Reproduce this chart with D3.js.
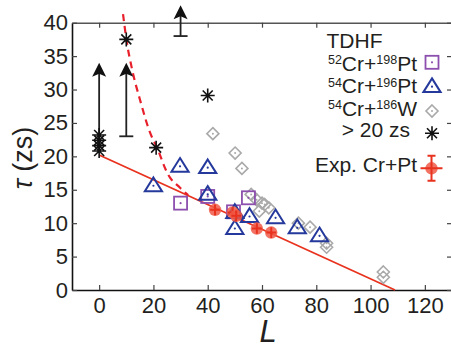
<!DOCTYPE html>
<html>
<head>
<meta charset="utf-8">
<script src="https://cdn.jsdelivr.net/npm/d3@7"></script>
<style>
  html, body { margin: 0; padding: 0; background: #fff; }
  svg { display: block; font-family: "Liberation Sans", Arial, Helvetica, sans-serif; }
</style>
</head>
<body>
<svg id="chart" width="451" height="349"></svg>
<script>
// Sticking time tau (zs) versus angular momentum L

// TDHF 52Cr+198Pt
const pt198L   = [30, 40, 49.5, 55];
const pt198Tau = [13.0, 14.0, 11.7, 13.8];

// TDHF 54Cr+196Pt
const pt196L   = [20, 29.8, 40, 40, 50, 50, 55.4, 65, 73, 81.2];
const pt196Tau = [15.6, 18.5, 18.3, 14.3, 11.6, 9.2, 11.0, 10.8, 9.3, 8.1];

// TDHF 54Cr+186W
const w186L   = [41.9, 50.1, 52.6, 56, 58, 60, 59, 62.5, 61, 73.4, 77.7, 83.8, 83.8, 104.7, 104.7];
const w186Tau = [23.4, 20.5, 18.2, 14.3, 13.5, 13.0, 11.8, 12.3, 12.8, 10.0, 9.4, 7.0, 6.4, 2.7, 1.9];

// TDHF runs still in contact after 20 zs
const longL   = [0, 0, 0, 0, 10, 21, 40];
const longTau = [20.8, 21.6, 22.4, 23.2, 37.5, 21.3, 29.1];

// lower limits drawn as upward arrows
const arrowL    = [0, 10, 30];
const arrowLow  = [20.8, 23, 38];
const arrowHigh = [34, 34, 42.6];
const arrowCap  = [false, true, true];

// experiment Cr+Pt
const expL      = [42.7, 49.2, 50.5, 58.1, 63.4];
const expTau    = [12.0, 11.6, 11.1, 9.2, 8.6];
const expErrL   = [1.8, 1.8, 1.8, 1.8, 1.8];
const expErrTau = [0.8, 0.8, 0.8, 0.8, 0.8];

// linear trend through experiment
const fitL   = [0, 109];
const fitTau = [20.2, 0];

// boundary curve (dashed)
const boundL   = [8.8, 10, 12.2, 15.1, 18.8, 21.3, 25.5, 29.8, 32.8];
const boundTau = [41.3, 37.6, 32.9, 28.4, 23.5, 21.3, 17.2, 15.3, 14.2];

const xTicks = [0, 20, 40, 60, 80, 100, 120];
const yTicks = [0, 5, 10, 15, 20, 25, 30, 35, 40];

const ink = "#231f20";
const cPurple = "#8c4fae";
const cBlue = "#24399b";
const cGray = "#a9a9a9";
const cRed = "#e8321e";

const svg = d3.select("#chart");
const x = d3.scaleLinear().domain([-10, 130]).range([72, 452]);
const y = d3.scaleLinear().domain([0, 40]).range([290, 22.7]);

// axes: inward ticks on all four sides
function styleAxis(g, color) {
  g.select(".domain").attr("stroke", color).attr("stroke-width", 1.6);
  g.selectAll(".tick line").attr("stroke", "#444").attr("stroke-width", 1.2);
  g.selectAll("text").attr("fill", ink).attr("font-size", 22)
    .attr("font-family", "'Liberation Sans', Arial, sans-serif");
}
svg.append("g").attr("transform", `translate(0,${y(0)})`)
  .call(d3.axisBottom(x).tickValues(xTicks).tickSizeInner(-5).tickSizeOuter(0).tickPadding(7))
  .call(g => styleAxis(g, "#111"));
svg.append("g").attr("transform", `translate(0,${y(40)})`)
  .call(d3.axisTop(x).tickValues(xTicks).tickSizeInner(-5).tickSizeOuter(0).tickFormat(""))
  .call(g => styleAxis(g, "#555"));
svg.append("g").attr("transform", `translate(${x(-10)},0)`)
  .call(d3.axisLeft(y).tickValues(yTicks).tickSizeInner(-5).tickSizeOuter(0).tickPadding(4))
  .call(g => styleAxis(g, "#111"));
svg.append("g").attr("transform", `translate(${x(130)},0)`)
  .call(d3.axisRight(y).tickValues(yTicks).tickSizeInner(-5).tickSizeOuter(0).tickFormat(""))
  .call(g => styleAxis(g, "#555"));

// axis titles
svg.append("text").attr("x", 268).attr("y", 342).attr("text-anchor", "middle")
  .attr("font-size", 31).attr("font-style", "italic").attr("fill", ink).text("L");
svg.append("text").attr("transform", "translate(32,158) rotate(-90)")
  .attr("text-anchor", "middle").attr("font-size", 27).attr("fill", ink)
  .call(t => {
    t.append("tspan").attr("font-style", "italic").text("τ");
    t.append("tspan").text(" (zs)");
  });

// trend line and boundary curve
svg.append("path")
  .datum(d3.zip(fitL, fitTau))
  .attr("d", d3.line().x(d => x(d[0])).y(d => y(d[1])))
  .attr("fill", "none").attr("stroke", cRed).attr("stroke-width", 1.8);
svg.append("path")
  .datum(d3.zip(boundL, boundTau))
  .attr("d", d3.line().x(d => x(d[0])).y(d => y(d[1])).curve(d3.curveMonotoneX))
  .attr("fill", "none").attr("stroke", "#e8202c").attr("stroke-width", 2.2)
  .attr("stroke-dasharray", "7,5");

// marker shapes
const shapes = {
  square: g => {
    g.append("rect").attr("x", -6.5).attr("y", -6.5).attr("width", 13).attr("height", 13)
      .attr("fill", "none").attr("stroke", cPurple).attr("stroke-width", 1.8);
    g.append("circle").attr("r", 1.1).attr("fill", cPurple);
  },
  triangle: g => {
    g.append("path").attr("d", "M0,-8.3L8.6,5.4L-8.6,5.4Z")
      .attr("fill", "none").attr("stroke", cBlue).attr("stroke-width", 2).attr("stroke-linejoin", "miter");
    g.append("circle").attr("r", 1.1).attr("fill", cBlue);
  },
  diamond: g => {
    g.append("path").attr("d", "M0,-6L6,0L0,6L-6,0Z")
      .attr("fill", "none").attr("stroke", cGray).attr("stroke-width", 1.6);
    g.append("circle").attr("r", 1).attr("fill", cGray);
  },
  star: g => {
    g.append("path").attr("d", "M0,-7V7M-7,0H7M-5,-5L5,5M-5,5L5,-5")
      .attr("fill", "none").attr("stroke", "#111").attr("stroke-width", 1.6);
  },
  exp: (g, ex, ey, cap) => {
    g.append("circle").attr("r", 6.2).attr("fill", "#f05a48").attr("fill-opacity", 0.85);
    g.append("path").attr("d", `M${-ex},0H${ex}M0,${-ey}V${ey}`)
      .attr("stroke", cRed).attr("stroke-width", 2);
    if (cap) {
      g.append("path").attr("d", `M-4,${-ey}H4M-4,${ey}H4`)
        .attr("stroke", cRed).attr("stroke-width", 2);
    }
  }
};

function plotSeries(ls, ts, shape) {
  svg.append("g").selectAll("g").data(d3.zip(ls, ts)).join("g")
    .attr("transform", d => `translate(${x(d[0])},${y(d[1])})`)
    .each(function () { shapes[shape](d3.select(this)); });
}

plotSeries(w186L, w186Tau, "diamond");
plotSeries(pt198L, pt198Tau, "square");
plotSeries(pt196L, pt196Tau, "triangle");

// lower-limit arrows
arrowL.forEach((l, i) => {
  const g = svg.append("g");
  const cx = x(l), y0 = y(arrowLow[i]), y1 = y(arrowHigh[i]);
  g.append("line").attr("x1", cx).attr("x2", cx).attr("y1", y0).attr("y2", y1 + 8)
    .attr("stroke", "#222").attr("stroke-width", 1.8);
  g.append("path").attr("d", `M${cx},${y1}L${cx + 7},${y1 + 14}L${cx},${y1 + 11}L${cx - 7},${y1 + 14}Z`)
    .attr("fill", "#111");
  if (arrowCap[i]) {
    g.append("line").attr("x1", cx - 7).attr("x2", cx + 7).attr("y1", y0).attr("y2", y0)
      .attr("stroke", "#222").attr("stroke-width", 1.8);
  }
});

plotSeries(longL, longTau, "star");

// experimental points with error bars
svg.append("g").selectAll("g").data(d3.range(expL.length)).join("g")
  .attr("transform", i => `translate(${x(expL[i])},${y(expTau[i])})`)
  .each(function (i) {
    const ex = x(expL[i] + expErrL[i]) - x(expL[i]);
    const ey = y(expTau[i] - expErrTau[i]) - y(expTau[i]);
    shapes.exp(d3.select(this), ex, ey, false);
  });

// legend
const leg = svg.append("g").attr("fill", ink).attr("font-size", 21);
leg.append("text").attr("x", 326.5).attr("y", 47.8).text("TDHF");

function isoLabel(yb, a1, el1, a2, el2) {
  const t = leg.append("text").attr("x", 417).attr("y", yb).attr("text-anchor", "end");
  t.append("tspan").attr("font-size", 12.5).attr("dy", -6.5).text(a1);
  t.append("tspan").attr("dy", 6.5).text(el1 + "+");
  t.append("tspan").attr("font-size", 12.5).attr("dy", -6.5).text(a2);
  t.append("tspan").attr("dy", 6.5).text(el2);
}
isoLabel(70.7, "52", "Cr", "198", "Pt");
isoLabel(93.3, "54", "Cr", "196", "Pt");
isoLabel(115.7, "54", "Cr", "186", "W");
leg.append("text").attr("x", 410).attr("y", 136.7).attr("text-anchor", "end").text("> 20 zs");
leg.append("text").attr("x", 417).attr("y", 171.7).attr("text-anchor", "end").text("Exp. Cr+Pt");

const legMarks = [["square", 62.3], ["triangle", 86.7], ["diamond", 111], ["star", 133.3]];
legMarks.forEach(([s, yy]) => {
  const g = svg.append("g").attr("transform", `translate(432,${yy})`);
  shapes[s](g);
});
shapes.exp(svg.append("g").attr("transform", "translate(431.5,168.3)"), 11, 12.5, true);
</script>
</body>
</html>
